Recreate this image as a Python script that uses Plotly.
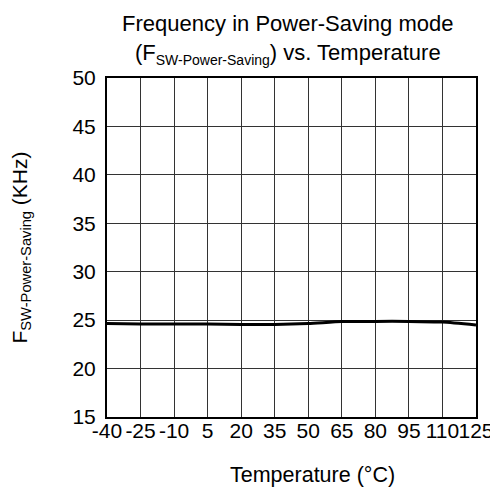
import plotly.graph_objects as go

temps = [-40, -25, -10, 5, 20, 35, 50, 65, 80, 95, 110, 125]
freq = [24.65, 24.6, 24.6, 24.6, 24.55, 24.55, 24.65, 24.85, 24.87, 24.87, 24.8, 24.5]
y_ticks = [15, 20, 25, 30, 35, 40, 45, 50]
x_tick_labels = [str(t) for t in temps]

FONT = "Liberation Sans, Arial, sans-serif"
FS = 21

fig = go.Figure()
fig.add_trace(go.Scatter(
    x=list(range(len(temps))), y=freq, mode="lines",
    line=dict(color="black", width=3, shape="spline", smoothing=0.6),
    showlegend=False, hoverinfo="skip",
))

fig.update_layout(
    width=490, height=485,
    margin=dict(l=99, r=22, t=70, b=76, autoexpand=False),
    paper_bgcolor="white", plot_bgcolor="white",
    font=dict(family=FONT, color="black", size=FS),
    title=dict(
        text="Frequency in Power-Saving mode<br>(F<sub><span style=\"font-size:14px\">SW-Power-Saving</span></sub>) vs. Temperature",
        x=0.571, xanchor="center", yref="container", y=0.952, yanchor="middle",
        font=dict(family=FONT, size=22, color="black"),
    ),
    xaxis=dict(
        range=[0, len(temps) - 1],
        tickmode="array", tickvals=list(range(len(temps))), ticktext=x_tick_labels,
        tickangle=0,
        showgrid=True, gridcolor="#333333", gridwidth=1,
        showline=True, linecolor="black", linewidth=2, mirror=True,
        ticks="", ticklabelstandoff=-6,
        zeroline=False, automargin=False,
        tickfont=dict(size=FS),
    ),
    yaxis=dict(
        range=[15, 50],
        tickmode="array", tickvals=y_ticks,
        showgrid=True, gridcolor="#333333", gridwidth=1,
        showline=True, linecolor="black", linewidth=2, mirror=True,
        ticks="", ticklabelstandoff=5,
        zeroline=False, automargin=False,
        title=dict(text="F<sub>SW-Power-Saving</sub> (KHz)", standoff=47, font=dict(size=FS)),
        tickfont=dict(size=FS),
    ),
    annotations=[dict(
        text="Temperature (°C)", xref="paper", yref="paper",
        x=0.558, y=-0.172, xanchor="center", yanchor="middle",
        showarrow=False, font=dict(family=FONT, size=21.5, color="black"),
    )],
)

fig.write_html("out.html")
